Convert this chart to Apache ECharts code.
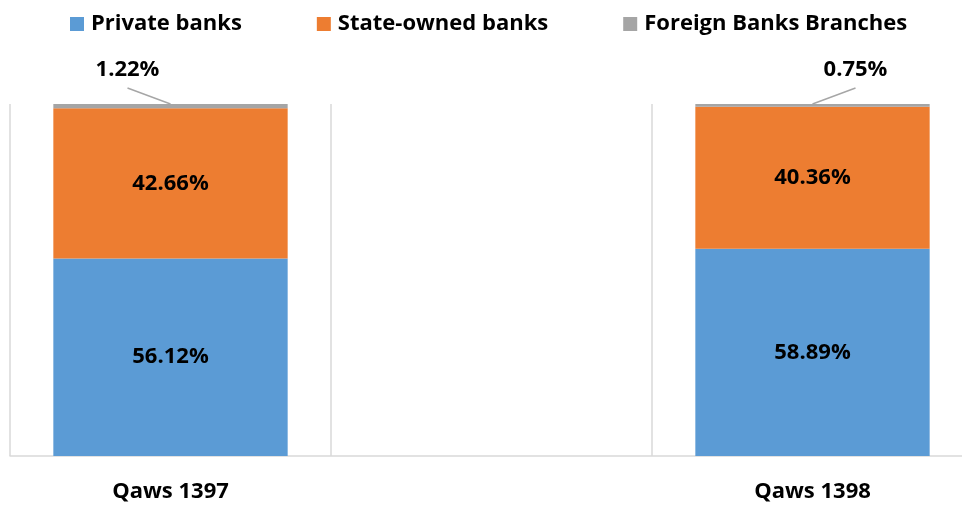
<!DOCTYPE html>
<html>
<head>
<meta charset="utf-8">
<script src="https://cdn.jsdelivr.net/npm/echarts@6/dist/echarts.min.js"></script>
<style>
  html, body { margin: 0; padding: 0; background: #fff; }
  #chart { width: 962px; height: 510px; }
</style>
</head>
<body>
<div id="chart"></div>
<script>
// Bank market share by period (percent); the middle slot is an empty spacer.
const categories = ['Qaws 1397', '', 'Qaws 1398'];
const privateBanks = [56.12, null, 58.89];
const stateOwnedBanks = [42.66, null, 40.36];
const foreignBranches = [1.22, null, 0.75];
const seriesNames = ['Private banks', 'State-owned banks', 'Foreign Banks Branches'];

const FONT = '"Open Sans", "Liberation Sans", sans-serif';
const fmt = v => v.toFixed(2) + '%';

// Callout data for the thin top segment: [category index, stack top, value]
const callouts = [];
categories.forEach((c, i) => {
  if (foreignBranches[i] == null) return;
  const top = privateBanks[i] + stateOwnedBanks[i] + foreignBranches[i];
  callouts.push([i, top, foreignBranches[i]]);
});

const chart = echarts.init(document.getElementById('chart'), null, { renderer: 'canvas' });

const innerLabel = {
  show: true, position: 'inside',
  formatter: p => p.value == null ? '' : fmt(p.value),
  color: '#000', fontFamily: FONT, fontWeight: 'bold', fontSize: 22
};

chart.setOption({
  animation: false,
  color: ['#5B9BD5', '#ED7D31', '#A5A5A5'],
  legend: {
    top: 8, left: 65, itemGap: 75,
    itemWidth: 14, itemHeight: 14, icon: 'rect',
    textStyle: { fontFamily: FONT, fontWeight: 'bold', fontSize: 22, color: '#000', padding: [0, 0, 0, 2] },
    data: seriesNames
  },
  // the plot runs a little past the right edge of the canvas
  grid: { left: 10, width: 963, top: 104, bottom: 54, outerBoundsMode: 'none', containLabel: false },
  xAxis: {
    type: 'category', data: categories,
    axisTick: { show: false },
    axisLine: { lineStyle: { color: '#d9d9d9', width: 1.5 } },
    splitLine: { show: true, lineStyle: { color: '#d9d9d9', width: 1.5 } },
    axisLabel: { margin: 25, color: '#000', fontFamily: FONT, fontWeight: 'bold', fontSize: 22 }
  },
  yAxis: { type: 'value', min: 0, max: 100, show: false },
  series: [
    { name: seriesNames[0], type: 'bar', stack: 'share', barWidth: '73%', data: privateBanks, label: innerLabel },
    { name: seriesNames[1], type: 'bar', stack: 'share', barWidth: '73%', data: stateOwnedBanks, label: innerLabel },
    { name: seriesNames[2], type: 'bar', stack: 'share', barWidth: '73%', data: foreignBranches },
    {
      // leader line + value label above the top segment
      type: 'custom', silent: true, z: 5,
      data: callouts,
      encode: { x: 0, y: 1 },
      renderItem: (params, api) => {
        const p = api.coord([api.value(0), api.value(1)]);
        const dx = params.dataIndex === 0 ? -43 : 43;
        return {
          type: 'group',
          children: [
            {
              type: 'line',
              shape: { x1: p[0] + dx, y1: p[1] - 16, x2: p[0], y2: p[1] },
              style: { stroke: '#a6a6a6', lineWidth: 1.5 }
            },
            {
              type: 'text',
              style: {
                x: p[0] + dx, y: p[1] - 34,
                text: fmt(api.value(2)),
                align: 'center', verticalAlign: 'middle',
                fill: '#000', fontFamily: FONT, fontWeight: 'bold', fontSize: 22
              }
            }
          ]
        };
      }
    }
  ]
});
</script>
</body>
</html>
